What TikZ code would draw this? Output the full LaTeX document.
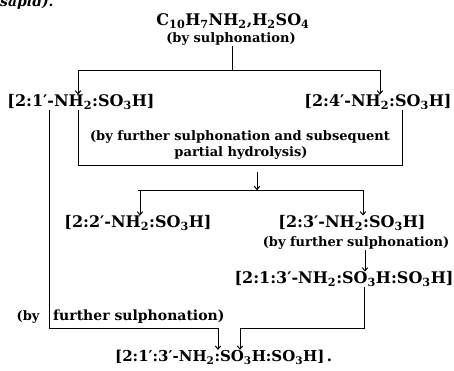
\documentclass[tikz,border=0pt]{standalone}
\usepackage{fontspec}
\setmainfont{DejaVu Serif}
\usetikzlibrary{arrows.meta}
\newcommand{\chsub}[1]{\textsubscript{#1}}
\tikzset{
  formula/.style={font=\bfseries\fontsize{16}{18}\selectfont, inner sep=0pt},
  remark/.style={font=\bfseries\fontsize{13}{15}\selectfont, inner sep=0pt},
  link/.style={line width=1pt},
  arr/.style={line width=1pt, -{To[length=4pt,width=6pt]}},
}
\begin{document}
\begin{tikzpicture}[x=1pt,y=-1pt]
\useasboundingbox (0,0) rectangle (454,370);
\begin{scope}
\clip (0,0) rectangle (454,370);
\node[inner sep=0pt, anchor=base west, font=\bfseries\itshape\fontsize{14}{16}\selectfont] (tail) at (0,6) {sapid).};

% starting material
\node[formula] (base) at (233,21) {C\chsub{10}H\chsub{7}NH\chsub{2},H\chsub{2}SO\chsub{4}};
\node[remark] (r1) at (231,39) {(by sulphonation)};
\coordinate (j1) at (232,70);
\coordinate (b1l) at (78,70);
\coordinate (b1r) at (380,70);
\draw[link] (r1.south -| j1) -- (j1);
\draw[link] (b1l) -- (b1r);

% monosulphonic acids
\node[formula] (a21) at (81,102) {[2:1′-NH\chsub{2}:SO\chsub{3}H]};
\node[formula] (a24) at (378,102) {[2:4′-NH\chsub{2}:SO\chsub{3}H]};
\draw[arr] (b1l) -- (b1l |- a21.north);
\draw[arr] (b1r) -- (b1r |- a24.north);

% bracket joining both to the next step
\coordinate (k1) at (78,165);
\coordinate (k2) at (402,165);
\draw[link] (a21.south -| k1) -- (k1) -- (k2) -- (a24.south -| k2);
\node[remark] (r2) at (240,137) {(by further sulphonation and subsequent};
\node[remark] (r3) at (241,153) {partial hydrolysis)};

\coordinate (j2) at (257,190);
\coordinate (b2l) at (140,190);
\coordinate (b2r) at (363,190);
\draw[arr] (257,172) -- (j2);
\draw[link] (138,190) -- (b2r);

\node[formula] (a22) at (138,223) {[2:2′-NH\chsub{2}:SO\chsub{3}H]};
\node[formula] (a23) at (352,223) {[2:3′-NH\chsub{2}:SO\chsub{3}H]};
\draw[arr] (b2l) -- (b2l |- a22.north);
\draw[arr] (b2r) -- (b2r |- a23.north);

\node[remark] (r4) at (356,243) {(by further sulphonation)};
\node[formula] (a213) at (344,279) {[2:1:3′-NH\chsub{2}:SO\chsub{3}H:SO\chsub{3}H]};
\draw[arr] (r4.south -| 365,0) -- (a213.north -| 365,0);

% final disulphonic acid
\node[formula, font=\bfseries\fontsize{15}{17}\selectfont, anchor=west] (fin) at (115,357) {[2:1′:3′-NH\chsub{2}:SO\chsub{3}H:SO\chsub{3}H]\,.};
\coordinate (c1) at (49,328);
\coordinate (c2) at (218,328);
\coordinate (d1) at (364,328);
\coordinate (d2) at (240,328);
\draw[link] (a21.south -| c1) -- (c1) -- (c2);
\draw[arr] (c2) -- (c2 |- fin.north);
\draw[link] (a213.south -| d1) -- (d1) -- (d2);
\draw[arr] (d2) -- (d2 |- fin.north);
\node[remark] (r5) at (28,317) {(by};
\node[remark, font=\bfseries\fontsize{14}{16}\selectfont, anchor=west] (r6) at (53,317) {further sulphonation)};
\end{scope}
\end{tikzpicture}
\end{document}
